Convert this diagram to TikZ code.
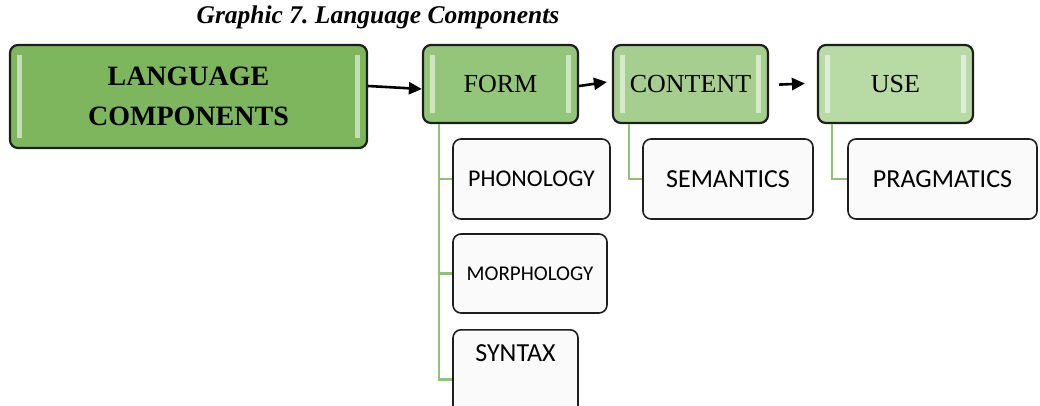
\documentclass[tikz,border=0pt]{standalone}
\usepackage{fontspec}
\setmainfont{Liberation Serif}
\newfontfamily\calibri{Carlito}
\usetikzlibrary{arrows.meta, positioning, calc}
\definecolor{langgreen}{HTML}{7DB65C}
\definecolor{formgreen}{HTML}{93C57B}
\definecolor{contgreen}{HTML}{A6CF8F}
\definecolor{usegreen}{HTML}{B8DBA6}
\definecolor{linkgreen}{HTML}{8EC17A}
\definecolor{bordercolor}{HTML}{1E1E1E}

\begin{document}
\begin{tikzpicture}[x=1pt, y=-1pt,
  greenbox/.style={rectangle, draw=bordercolor, line width=2.2pt, rounded corners=8pt, font=\fontsize{26}{30}\selectfont, align=center,
    path picture={
      \fill[white, opacity=0.55, sharp corners] ([xshift=7pt,yshift=-10pt]path picture bounding box.north west) rectangle ([xshift=12pt,yshift=10pt]path picture bounding box.south west);
      \fill[white, opacity=0.55, sharp corners] ([xshift=-12pt,yshift=-10pt]path picture bounding box.north east) rectangle ([xshift=-7pt,yshift=10pt]path picture bounding box.south east);
    }},
  subbox/.style={rectangle, draw=bordercolor, line width=1.6pt, fill=black!2, rounded corners=8pt, font=\calibri\fontsize{26}{30}\selectfont},
  arrow/.style={-{Triangle[length=13pt, width=12pt]}, line width=2.6pt, draw=black},
  branch/.style={draw=linkgreen, line width=2.8pt}
]
  \useasboundingbox (0,0) rectangle (1040,405);

  % Title
  \node[font=\fontsize{25.5}{30}\selectfont\bfseries\itshape] (title) at (378,17) {\frenchspacing Graphic 7. Language Components};

  % Main boxes
  \node[greenbox, fill=langgreen, minimum width=357pt, minimum height=103pt, font=\fontsize{28}{40}\selectfont\bfseries] (lang) at (188.5,96.5) {LANGUAGE\\COMPONENTS};
  \node[greenbox, fill=formgreen, minimum width=155pt, minimum height=78pt] (form) at (500.5,84) {FORM};
  \node[greenbox, fill=contgreen, minimum width=155pt, minimum height=78pt] (cont) at (690.5,84) {CONTENT};
  \node[greenbox, fill=usegreen, minimum width=155pt, minimum height=78pt] (use) at (895.5,84) {USE};

  % Sub boxes
  \node[subbox, minimum width=157pt, minimum height=80pt, font=\calibri\fontsize{24}{28}\selectfont] (phon) at (531.5,179) {PHONOLOGY};
  \node[subbox, minimum width=154pt, minimum height=79pt, font=\calibri\fontsize{21}{25}\selectfont] (morph) at (530,273.5) {MORPHOLOGY};
  \node[subbox, minimum width=125pt, text height=17pt, text depth=44pt, inner ysep=15pt, anchor=north] (syn) at (515.5,329) {SYNTAX};
  \node[subbox, minimum width=170pt, minimum height=80pt] (sem) at (728,179) {SEMANTICS};
  \node[subbox, minimum width=189pt, minimum height=80pt] (prag) at (942.5,179) {PRAGMATICS};

  % Arrows
  \draw[arrow] (lang.east |- 0,86) -- (form.west |- 0,89);
  \draw[arrow] (form.east) ++(0,2) -- ([yshift=2pt, xshift=-5pt]cont.west);
  \draw[arrow, shorten <=10pt, shorten >=12pt] (cont.east) ++(0,1) -- ([yshift=1pt]use.west);

  % Green links
  \coordinate (formlink) at ($(form.south west)+(17,0)$);
  \coordinate (contlink) at ($(cont.south west)+(17,0)$);
  \coordinate (uselink) at ($(use.south west)+(15,0)$);
  \draw[branch] (formlink) |- (phon.west);
  \draw[branch] (formlink) |- (morph.west);
  \draw[branch] (formlink) |- ([yshift=-4pt]syn.west);
  \draw[branch] (contlink) |- (sem.west);
  \draw[branch] (uselink) |- (prag.west);
\end{tikzpicture}
\end{document}
